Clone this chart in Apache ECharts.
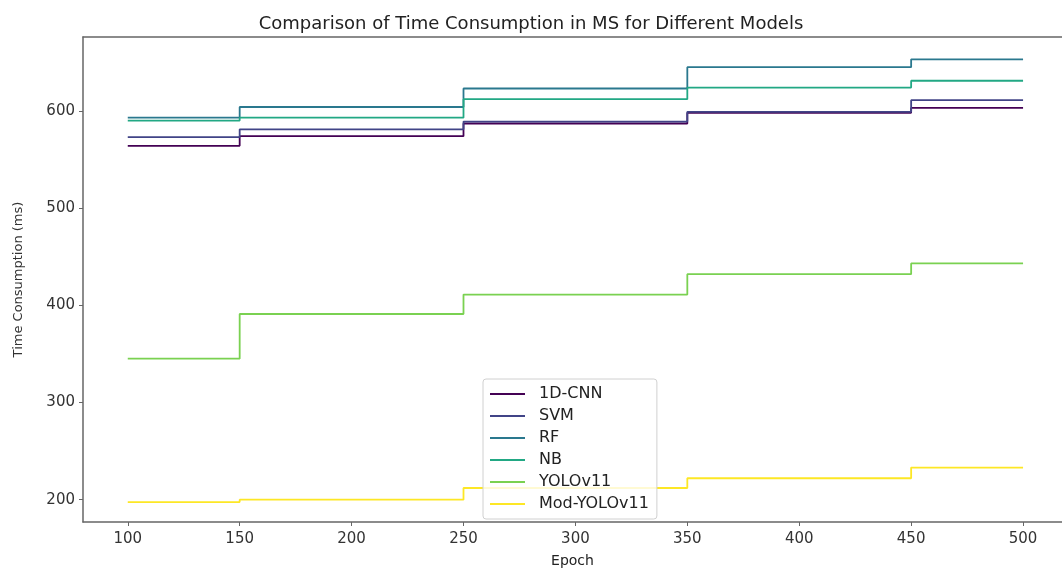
<!DOCTYPE html>
<html>
<head>
<meta charset="utf-8">
<script src="https://cdn.jsdelivr.net/npm/echarts@6/dist/echarts.min.js"></script>
<style>html,body{margin:0;padding:0;background:#fff;}#c{width:1062px;height:570px;}</style>
</head>
<body>
<div id="c"></div>
<script>
const epochs = [100, 200, 300, 400, 500];
const seriesNames = ['1D-CNN', 'SVM', 'RF', 'NB', 'YOLOv11', 'Mod-YOLOv11'];
const cnn1d   = [564, 574, 587, 598, 603];
const svm     = [573, 581, 589, 599, 611];
const rf      = [593, 604, 623, 645, 653];
const nb      = [590, 593, 612, 624, 631];
const yolov11 = [345, 391, 411, 432, 443];
const modYolo = [197.5, 200, 212, 222, 233];
const xTicks = [100, 150, 200, 250, 300, 350, 400, 450, 500];
const yTicks = [200, 300, 400, 500, 600];
const colors = ['#440154', '#414487', '#2a788e', '#22a884', '#7ad151', '#fde725'];

const allValues = [cnn1d, svm, rf, nb, yolov11, modYolo];
const font = 'DejaVu Sans';
const chart = echarts.init(document.getElementById('c'));
chart.setOption({
  animation: false,
  title: {
    text: 'Comparison of Time Consumption in MS for Different Models',
    left: 'center', top: 10,
    textStyle: {fontFamily: font, fontSize: 18, fontWeight: 'normal', color: '#222'}
  },
  grid: {left: 83, right: 0, top: 37, bottom: 48, show: false, outerBoundsMode: 'none', containLabel: false},
  legend: {
    orient: 'vertical', left: 483, top: 379,
    data: seriesNames,
    icon: 'rect', itemWidth: 35, itemHeight: 2, itemGap: 6,
    padding: [7, 8, 7, 7],
    borderColor: '#d0d0d0', borderWidth: 1, borderRadius: 3,
    backgroundColor: 'rgba(255,255,255,0.8)',
    textStyle: {fontFamily: font, fontSize: 16, color: '#222', lineHeight: 14, padding: [0, 0, 0, 9]}
  },
  xAxis: [{
    type: 'value', min: 80, max: 517.4,
    name: 'Epoch', nameLocation: 'middle', nameGap: 32,
    nameTextStyle: {fontFamily: font, fontSize: 14, color: '#222'},
    axisLine: {show: true, lineStyle: {color: '#666', width: 1.5}},
    axisTick: {show: true, length: 4, lineStyle: {color: '#666'}, customValues: xTicks},
    axisLabel: {fontFamily: font, fontSize: 15, color: '#333', margin: 10, customValues: xTicks},
    splitLine: {show: false}
  }, {
    type: 'value', min: 80, max: 517.4, position: 'top',
    axisLine: {show: true, lineStyle: {color: '#666', width: 1.5}},
    axisTick: {show: false}, axisLabel: {show: false}, splitLine: {show: false}
  }],
  yAxis: {
    type: 'value', min: 177, max: 676,
    name: 'Time Consumption (ms)', nameLocation: 'middle', nameGap: 58,
    nameTextStyle: {fontFamily: font, fontSize: 13, color: '#333'},
    axisLine: {show: true, lineStyle: {color: '#666', width: 1.5}},
    axisTick: {show: true, length: 4, lineStyle: {color: '#666'}, customValues: yTicks},
    axisLabel: {fontFamily: font, fontSize: 15, color: '#333', margin: 8, customValues: yTicks},
    splitLine: {show: false}
  },
  series: seriesNames.map((n, i) => ({
    name: n, type: 'line', step: 'middle', showSymbol: false,
    color: colors[i],
    lineStyle: {width: 1.8, color: colors[i]},
    data: epochs.map((e, j) => [e, allValues[i][j]])
  }))
});
</script>
</body>
</html>
